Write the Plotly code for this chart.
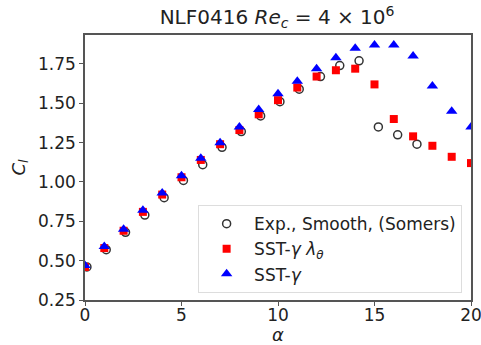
import plotly.graph_objects as go

alpha = list(range(0, 21))
cl_sst_gamma = [0.47, 0.59, 0.70, 0.82, 0.93, 1.04, 1.15, 1.25, 1.35, 1.46, 1.56,
                1.64, 1.72, 1.79, 1.85, 1.87, 1.87, 1.80, 1.61, 1.45, 1.35]
cl_sst_lambda = [0.46, 0.58, 0.69, 0.81, 0.92, 1.03, 1.14, 1.24, 1.33, 1.43, 1.52,
                 1.60, 1.67, 1.71, 1.72, 1.62, 1.40, 1.29, 1.23, 1.16, 1.12]
alpha_exp = [0.1, 1.1, 2.1, 3.1, 4.1, 5.1, 6.1, 7.1, 8.1, 9.1, 10.1, 11.1,
             12.2, 13.2, 14.2, 15.2, 16.2, 17.2]
cl_exp = [0.46, 0.57, 0.68, 0.79, 0.90, 1.01, 1.11, 1.22, 1.32, 1.42, 1.51, 1.59,
          1.67, 1.74, 1.77, 1.35, 1.30, 1.24]

font = "DejaVu Sans"
fig = go.Figure()
fig.add_trace(go.Scatter(x=alpha_exp, y=cl_exp, mode="markers",
                         name="Exp., Smooth, (Somers)",
                         marker=dict(symbol="circle-open", size=8, color="#333",
                                     line=dict(width=1.5, color="#333"))))
fig.add_trace(go.Scatter(x=alpha, y=cl_sst_lambda, mode="markers",
                         name="SST-<i>γ</i> <i>λ<sub>θ</sub></i>",
                         marker=dict(symbol="square", size=8, color="red")))
fig.add_trace(go.Scatter(x=alpha, y=cl_sst_gamma, mode="markers",
                         name="SST-<i>γ</i>",
                         marker=dict(symbol="triangle-up", size=10, color="blue")))

axis_common = dict(showline=True, linecolor="#555", linewidth=1.5, mirror=True,
                   ticks="outside", ticklen=4, tickcolor="#555", showgrid=False,
                   zeroline=False, automargin=True, ticklabeloverflow="allow",
                   tickfont=dict(family=font, size=17, color="#222"))
fig.update_layout(
    width=481, height=345,
    margin=dict(l=85, r=10, t=35, b=45, autoexpand=False),
    paper_bgcolor="white", plot_bgcolor="white",
    font=dict(family=font, color="#222"),
    title=dict(text="NLF0416 <i>Re<sub>c</sub></i> = 4 × 10<sup>6</sup>",
               x=0.576, xanchor="center", y=0.95, yanchor="middle",
               font=dict(family=font, size=20, color="#222")),
    showlegend=True,
    legend=dict(x=0.977, y=0.026, xanchor="right", yanchor="bottom",
                itemwidth=45,
                bgcolor="rgba(255,255,255,0.8)", bordercolor="#ddd", borderwidth=1,
                font=dict(family=font, size=17, color="#222")),
    xaxis=dict(range=[0, 20], tickvals=[0, 5, 10, 15, 20], ticklabelstandoff=-5,
               title=dict(text="<i>α</i>", font=dict(family=font, size=18), standoff=4),
               **axis_common),
    yaxis=dict(range=[0.25, 1.934], tickvals=[0.25, 0.5, 0.75, 1.0, 1.25, 1.5, 1.75],
               tickformat=".2f",
               title=dict(text="<i>C<sub>l</sub></i>", font=dict(family=font, size=18), standoff=8),
               **axis_common),
)
fig.write_html("out.html")
